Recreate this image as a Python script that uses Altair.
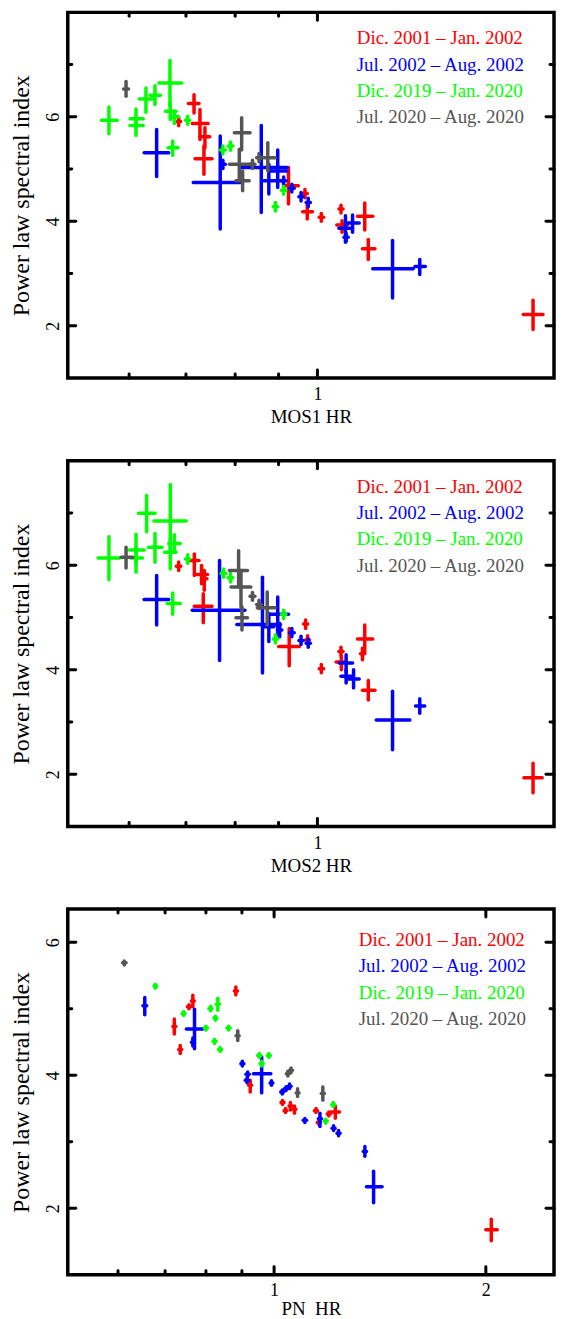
import altair as alt
import pandas as pd

FONT = "Liberation Serif"
SERIES = ["Dic. 2001 – Jan. 2002", "Jul. 2002 – Aug. 2002",
          "Dic. 2019 – Jan. 2020", "Jul. 2020 – Aug. 2020"]
COLORS = ["#ff0000", "#0000ff", "#00ff00", "#555555"]
Y_TITLE = "Power law spectral index"
X_TITLES = ["MOS1 HR", "MOS2 HR", "PN\u00a0\u00a0HR"]

# each point: (HR, HR_low, HR_high, index, index_low, index_high)
mos1_red = [
    (0.6863, 0.682, 0.690, 5.911, 5.83, 5.99),
    (0.7155, 0.7047, 0.7252, 6.254, 6.076, 6.425),
    (0.7271, 0.7121, 0.7434, 5.873, 5.568, 6.140),
    (0.737, 0.7271, 0.7467, 5.619, 5.410, 5.790),
    (0.735, 0.7174, 0.7514, 5.200, 4.902, 5.441),
    (0.9245, 0.9124, 0.9496, 4.679, 4.330, 5.029),
    (0.9667, 0.961, 0.973, 4.533, 4.45, 4.61),
    (0.9728, 0.9607, 0.9867, 4.184, 4.044, 4.349),
    (1.0107, 1.005, 1.017, 4.076, 4.00, 4.15),
    (1.066, 1.060, 1.072, 4.235, 4.16, 4.31),
    (1.069, 1.054, 1.085, 3.930, 3.790, 4.013),
    (1.137, 1.115, 1.162, 4.095, 3.835, 4.349),
    (1.148, 1.130, 1.169, 3.473, 3.270, 3.651),
    (1.795, 1.748, 1.844, 2.216, 1.930, 2.489),
]
mos1_blue = [
    (0.6465, 0.6249, 0.6681, 5.314, 4.857, 5.759),
    (0.7682, 0.7141, 0.8113, 4.743, 3.854, 5.632),
    (0.7738, 0.769, 0.779, 5.092, 5.01, 5.17),
    (0.8587, 0.8127, 0.9205, 5.029, 4.171, 5.835),
    (0.8765, 0.8615, 0.9124, 4.775, 4.521, 5.092),
    (0.8979, 0.8805, 0.9205, 4.965, 4.648, 5.365),
    (0.9124, 0.907, 0.918, 4.775, 4.70, 4.85),
    (0.9329, 0.927, 0.939, 4.635, 4.56, 4.71),
    (0.9565, 0.951, 0.962, 4.470, 4.39, 4.55),
    (0.9754, 0.970, 0.981, 4.362, 4.28, 4.44),
    (1.079, 1.060, 1.100, 3.867, 3.600, 4.108),
    (1.081, 1.075, 1.087, 3.695, 3.62, 3.77),
    (1.100, 1.085, 1.120, 3.968, 3.790, 4.121),
    (1.226, 1.162, 1.297, 3.092, 2.533, 3.632),
    (1.320, 1.303, 1.340, 3.137, 2.984, 3.270),
]
mos1_green = [
    (0.568, 0.5565, 0.5809, 5.937, 5.676, 6.190),
    (0.6113, 0.6016, 0.6234, 5.962, 5.790, 6.152),
    (0.6113, 0.6016, 0.6234, 5.835, 5.644, 5.981),
    (0.628, 0.6166, 0.6391, 6.343, 6.089, 6.552),
    (0.6436, 0.6352, 0.6532, 6.413, 6.235, 6.597),
    (0.6703, 0.6503, 0.6921, 6.648, 6.203, 7.079),
    (0.6709, 0.6622, 0.6813, 6.108, 5.949, 6.267),
    (0.6784, 0.6709, 0.6863, 6.000, 5.873, 6.108),
    (0.7033, 0.699, 0.707, 5.937, 5.86, 6.01),
    (0.6753, 0.6668, 0.6850, 5.410, 5.263, 5.537),
    (0.7738, 0.769, 0.779, 5.365, 5.29, 5.44),
    (0.7899, 0.785, 0.795, 5.441, 5.36, 5.52),
    (0.9124, 0.907, 0.918, 4.597, 4.52, 4.67),
    (0.8923, 0.887, 0.898, 4.279, 4.20, 4.36),
]
mos1_gray = [
    (0.595, 0.591, 0.599, 6.533, 6.394, 6.679),
    (0.8142, 0.7982, 0.8330, 5.695, 5.365, 5.981),
    (0.809, 0.7876, 0.8385, 5.092, 4.806, 5.378),
    (0.8163, 0.8017, 0.8309, 4.775, 4.584, 4.965),
    (0.8385, 0.833, 0.844, 5.092, 5.01, 5.17),
    (0.8535, 0.848, 0.859, 5.219, 5.14, 5.30),
    (0.874, 0.8535, 0.8923, 5.219, 4.965, 5.505),
]

mos2_red = [
    (0.6863, 0.682, 0.690, 5.981, 5.90, 6.06),
    (0.7161, 0.7079, 0.7252, 6.089, 5.804, 6.215),
    (0.7303, 0.7205, 0.7422, 5.823, 5.646, 5.994),
    (0.7357, 0.7303, 0.741, 5.741, 5.519, 5.899),
    (0.7337, 0.7161, 0.7514, 5.215, 4.899, 5.456),
    (0.9263, 0.9003, 0.9522, 4.443, 4.076, 4.791),
    (0.9685, 0.963, 0.974, 4.873, 4.79, 4.95),
    (0.9737, 0.968, 0.979, 4.570, 4.49, 4.65),
    (1.0107, 1.005, 1.017, 4.019, 3.94, 4.10),
    (1.066, 1.060, 1.072, 4.348, 4.27, 4.43),
    (1.067, 1.052, 1.081, 4.146, 4.000, 4.253),
    (1.137, 1.115, 1.162, 4.589, 4.316, 4.854),
    (1.130, 1.124, 1.136, 4.304, 4.19, 4.41),
    (1.148, 1.130, 1.169, 3.608, 3.418, 3.791),
    (1.795, 1.751, 1.840, 1.930, 1.646, 2.209),
]
mos2_blue = [
    (0.6465, 0.6249, 0.6681, 5.342, 4.854, 5.804),
    (0.7668, 0.7121, 0.8214, 5.139, 4.177, 6.089),
    (0.8615, 0.8037, 0.9044, 4.867, 3.937, 5.772),
    (0.8979, 0.8765, 0.9245, 5.063, 4.665, 5.392),
    (0.9028, 0.897, 0.908, 4.759, 4.633, 4.886),
    (0.8765, 0.865, 0.8884, 4.823, 4.538, 5.076),
    (0.9329, 0.927, 0.939, 4.709, 4.63, 4.79),
    (0.9565, 0.951, 0.962, 4.557, 4.48, 4.64),
    (0.9754, 0.970, 0.981, 4.506, 4.43, 4.59),
    (1.081, 1.061, 1.100, 4.127, 3.949, 4.285),
    (1.081, 1.066, 1.098, 3.873, 3.747, 4.000),
    (1.103, 1.085, 1.120, 3.823, 3.652, 4.000),
    (1.226, 1.173, 1.285, 3.038, 2.468, 3.589),
    (1.320, 1.305, 1.338, 3.304, 3.165, 3.443),
]
mos2_green = [
    (0.568, 0.5516, 0.5846, 6.139, 5.722, 6.544),
    (0.6113, 0.6004, 0.6249, 6.291, 6.025, 6.595),
    (0.6113, 0.6031, 0.6222, 6.139, 5.867, 6.342),
    (0.6291, 0.6156, 0.6436, 6.994, 6.639, 7.335),
    (0.6436, 0.6325, 0.6560, 6.342, 6.057, 6.608),
    (0.6709, 0.6418, 0.7004, 6.848, 6.278, 7.544),
    (0.6709, 0.6606, 0.6813, 6.247, 5.930, 6.532),
    (0.6784, 0.6681, 0.6893, 6.418, 6.278, 6.582),
    (0.7033, 0.699, 0.707, 6.120, 6.04, 6.20),
    (0.6753, 0.6651, 0.6893, 5.266, 5.063, 5.468),
    (0.7752, 0.770, 0.780, 5.848, 5.77, 5.93),
    (0.7899, 0.785, 0.795, 5.759, 5.68, 5.84),
    (0.9124, 0.907, 0.918, 5.057, 4.98, 5.14),
    (0.8923, 0.887, 0.898, 4.589, 4.51, 4.67),
]
mos2_gray = [
    (0.595, 0.5871, 0.6058, 6.152, 5.949, 6.342),
    (0.8075, 0.7876, 0.8271, 5.899, 5.582, 6.278),
    (0.8127, 0.7910, 0.8347, 5.582, 5.203, 5.899),
    (0.8149, 0.8017, 0.8271, 4.994, 4.759, 5.203),
    (0.8385, 0.833, 0.844, 5.405, 5.33, 5.48),
    (0.8535, 0.848, 0.859, 5.247, 5.17, 5.33),
    (0.8727, 0.8495, 0.8923, 5.184, 4.854, 5.487),
]

pn_red = [
    (0.7214, 0.718, 0.725, 4.736, 4.622, 4.846),
    (0.7355, 0.732, 0.739, 4.388, 4.33, 4.45),
    (0.7568, 0.753, 0.761, 5.030, 5.00, 5.06),
    (0.7665, 0.763, 0.770, 5.119, 5.030, 5.204),
    (0.8823, 0.878, 0.887, 5.269, 5.21, 5.33),
    (0.9248, 0.920, 0.929, 3.851, 3.751, 3.925),
    (1.028, 1.023, 1.033, 3.592, 3.56, 3.62),
    (1.038, 1.033, 1.043, 3.468, 3.44, 3.50),
    (1.055, 1.050, 1.060, 3.537, 3.48, 3.59),
    (1.069, 1.064, 1.074, 3.488, 3.43, 3.54),
    (1.147, 1.141, 1.153, 3.468, 3.44, 3.50),
    (1.158, 1.152, 1.164, 3.289, 3.26, 3.32),
    (1.196, 1.190, 1.202, 3.418, 3.39, 3.45),
    (1.222, 1.205, 1.239, 3.448, 3.353, 3.537),
    (2.036, 2.000, 2.076, 1.677, 1.512, 1.836),
]
pn_blue = [
    (0.6549, 0.651, 0.659, 5.045, 4.910, 5.169),
    (0.7707, 0.7504, 0.7918, 4.697, 4.398, 4.995),
    (0.7665, 0.763, 0.770, 4.498, 4.44, 4.56),
    (0.9013, 0.897, 0.906, 4.174, 4.14, 4.21),
    (0.9170, 0.912, 0.922, 4.015, 3.98, 4.05),
    (0.9150, 0.910, 0.920, 3.925, 3.89, 3.96),
    (0.9601, 0.9347, 0.9893, 4.025, 3.736, 4.274),
    (0.9915, 0.987, 0.996, 3.886, 3.85, 3.92),
    (1.027, 1.022, 1.032, 3.751, 3.72, 3.78),
    (1.040, 1.035, 1.045, 3.801, 3.77, 3.83),
    (1.052, 1.047, 1.057, 3.836, 3.80, 3.87),
    (1.106, 1.100, 1.112, 3.323, 3.29, 3.35),
    (1.162, 1.156, 1.168, 3.348, 3.229, 3.428),
    (1.215, 1.209, 1.221, 3.204, 3.17, 3.24),
    (1.235, 1.229, 1.241, 3.129, 3.09, 3.17),
    (1.346, 1.339, 1.353, 2.856, 2.781, 2.930),
    (1.385, 1.353, 1.424, 2.323, 2.085, 2.557),
]
pn_green = [
    (0.6779, 0.675, 0.681, 5.343, 5.31, 5.37),
    (0.7437, 0.740, 0.747, 4.930, 4.90, 4.96),
    (0.8000, 0.796, 0.804, 4.711, 4.68, 4.74),
    (0.8124, 0.808, 0.816, 5.005, 4.97, 5.04),
    (0.8254, 0.821, 0.829, 4.861, 4.83, 4.89),
    (0.8318, 0.828, 0.836, 5.070, 4.98, 5.159),
    (0.8229, 0.819, 0.827, 4.512, 4.48, 4.54),
    (0.8381, 0.834, 0.842, 4.388, 4.36, 4.42),
    (0.8616, 0.857, 0.866, 4.711, 4.68, 4.74),
    (0.9530, 0.948, 0.958, 4.299, 4.27, 4.33),
    (0.9830, 0.978, 0.988, 4.299, 4.27, 4.33),
    (0.9601, 0.955, 0.965, 4.174, 4.14, 4.21),
    (1.214, 1.208, 1.220, 3.557, 3.53, 3.59),
    (1.184, 1.178, 1.190, 3.313, 3.28, 3.34),
]
pn_gray = [
    (0.6124, 0.609, 0.616, 5.692, 5.66, 5.72),
    (0.8879, 0.883, 0.892, 4.597, 4.522, 4.672),
    (1.046, 1.041, 1.051, 4.025, 3.99, 4.06),
    (1.057, 1.052, 1.062, 4.075, 4.04, 4.11),
    (1.080, 1.075, 1.085, 3.736, 3.68, 3.80),
    (1.173, 1.167, 1.179, 3.726, 3.627, 3.826),
]

# axis settings
MOS_X_DOMAIN = [0.508, 1.90]
PN_X_DOMAIN = [0.509, 2.50]
MOS_Y_DOMAIN = [1, 8]
PN_Y_DOMAIN = [1, 6.5]

W, H = 488, 367
LW = 3.5


def segments(lists):
    rows = []
    for name, pts in zip(SERIES, lists):
        for (x, xlo, xhi, y, ylo, yhi) in pts:
            rows.append(dict(s=name, x1=xlo, x2=xhi, y1=y, y2=y))
            rows.append(dict(s=name, x1=x, x2=x, y1=ylo, y2=yhi))
    return pd.DataFrame(rows)


def panel(lists, xdom, ydom, xmajor, xminor, ymajor, yminor, xtitle, lx, ly, lpad, tpad):
    xscale = alt.Scale(type="log", domain=xdom, nice=False, zero=False)
    yscale = alt.Scale(domain=ydom, nice=False, zero=False)
    xaxis = alt.Axis(values=xmajor, format="~g", ticks=False, domain=False, grid=False,
                     labelPadding=lpad, labelFontSize=18, labelFont=FONT, labelColor="black",
                     title=xtitle, titleFont=FONT, titleFontSize=19, titleFontWeight="normal",
                     titleColor="black", titlePadding=tpad)
    yaxis = alt.Axis(values=ymajor, ticks=False, domain=False, grid=False,
                     labelAngle=270, labelAlign="center", labelBaseline="alphabetic",
                     labelPadding=9, labelFontSize=18, labelFont=FONT, labelColor="black",
                     title=Y_TITLE, titleFont=FONT, titleFontSize=24, titleFontWeight="normal",
                     titleColor="black", titlePadding=11)

    def X(f):
        return alt.X(f, type="quantitative", scale=xscale, axis=xaxis)

    def Y(f):
        return alt.Y(f, type="quantitative", scale=yscale, axis=yaxis)

    bars = alt.Chart(segments(lists)).mark_rule(strokeWidth=LW, strokeCap="round").encode(
        x=X("x1"), x2="x2", y=Y("y1"), y2="y2",
        color=alt.Color("s:N", scale=alt.Scale(domain=SERIES, range=COLORS), legend=None),
    )

    layers = [bars]
    tick_mark = dict(strokeWidth=3, strokeCap="round", color="black")
    for vals, L in ((xminor, 4), (xmajor, 8)):
        d = pd.DataFrame({"v": vals})
        layers.append(alt.Chart(d).mark_rule(**tick_mark).encode(
            x=X("v"), y=alt.value(0), y2=alt.value(L)))
        layers.append(alt.Chart(d).mark_rule(**tick_mark).encode(
            x=X("v"), y=alt.value(H), y2=alt.value(H - L)))
    for vals, L in ((yminor, 4), (ymajor, 8)):
        d = pd.DataFrame({"v": vals})
        layers.append(alt.Chart(d).mark_rule(**tick_mark).encode(
            y=Y("v"), x=alt.value(0), x2=alt.value(L)))
        layers.append(alt.Chart(d).mark_rule(**tick_mark).encode(
            y=Y("v"), x=alt.value(W), x2=alt.value(W - L)))

    for i, (s, c) in enumerate(zip(SERIES, COLORS)):
        layers.append(alt.Chart(pd.DataFrame({"t": [s]})).mark_text(
            align="left", baseline="middle", font=FONT, fontSize=19, color=c
        ).encode(x=alt.value(lx), y=alt.value(ly + i * 26.4), text="t:N"))

    return alt.layer(*layers).properties(width=W, height=H)


p1 = panel([mos1_red, mos1_blue, mos1_green, mos1_gray], MOS_X_DOMAIN, MOS_Y_DOMAIN,
           [1], [0.6, 0.7, 0.8, 0.9], [2, 4, 6], [3, 5, 7], X_TITLES[0], 290, 26, 8, 4)
p2 = panel([mos2_red, mos2_blue, mos2_green, mos2_gray], MOS_X_DOMAIN, MOS_Y_DOMAIN,
           [1], [0.6, 0.7, 0.8, 0.9], [2, 4, 6], [3, 5, 7], X_TITLES[1], 290, 26, 8, 4)
p3 = panel([pn_red, pn_blue, pn_green, pn_gray], PN_X_DOMAIN, PN_Y_DOMAIN,
           [1, 2], [0.6, 0.7, 0.8, 0.9], [2, 4, 6], [3, 5], X_TITLES[2], 292, 31, 7, 0)

chart = alt.vconcat(p1, p2, p3, spacing=28).configure_view(
    stroke="black", strokeWidth=3.5
).properties(padding={"left": 0, "top": -2, "right": 0, "bottom": 0})

chart.save("out.html", embed_options={"renderer": "svg", "actions": False})
